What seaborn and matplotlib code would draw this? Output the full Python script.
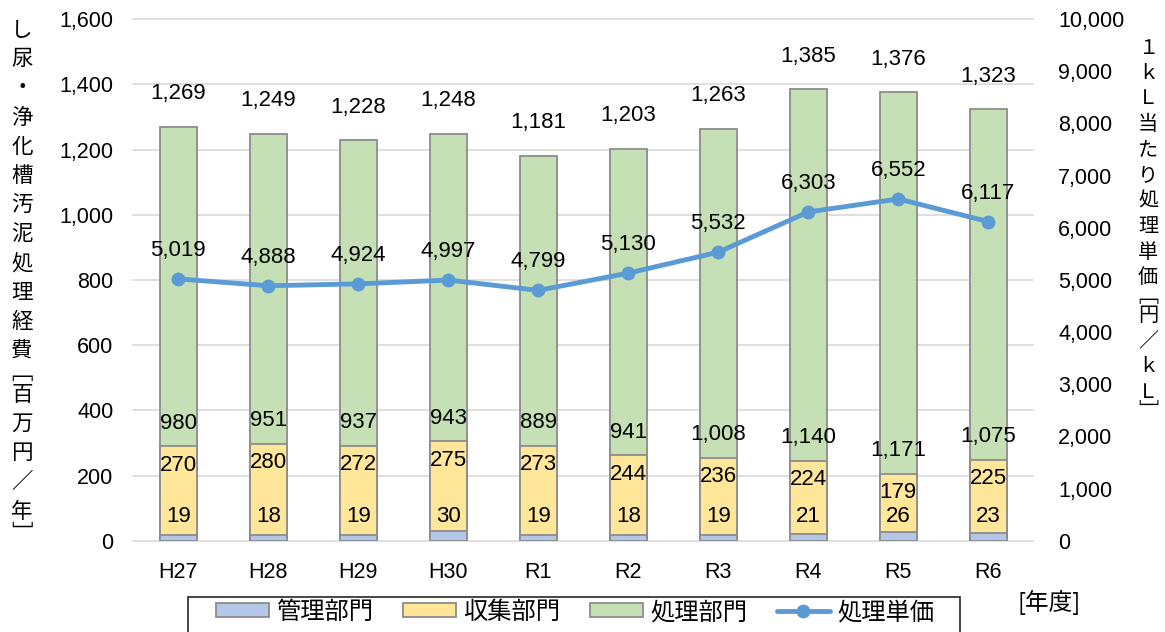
import numpy as np
import pandas as pd
import matplotlib
matplotlib.use("Agg")
import matplotlib.pyplot as plt
from matplotlib.patches import Patch, Rectangle
from matplotlib.lines import Line2D
from matplotlib.ticker import FuncFormatter
import seaborn as sns

# ---- data -------------------------------------------------------------
years = ["H27", "H28", "H29", "H30", "R1", "R2", "R3", "R4", "R5", "R6"]
kanri = [19, 18, 19, 30, 19, 18, 19, 21, 26, 23]                 # 管理部門 [百万円]
shushu = [270, 280, 272, 275, 273, 244, 236, 224, 179, 225]      # 収集部門 [百万円]
shori = [980, 951, 937, 943, 889, 941, 1008, 1140, 1171, 1075]   # 処理部門 [百万円]
tanka = [5019, 4888, 4924, 4997, 4799, 5130, 5532, 6303, 6552, 6117]  # 処理単価 [円/kL]

series_names = ["管理部門", "収集部門", "処理部門", "処理単価"]
left_ticks = [0, 200, 400, 600, 800, 1000, 1200, 1400, 1600]
right_ticks = [0, 1000, 2000, 3000, 4000, 5000, 6000, 7000, 8000, 9000, 10000]
left_title = "し尿・浄化槽汚泥処理経費﹇百万円／年﹈"
right_title = "１ｋＬ当たり処理単価﹇円／ｋＬ﹈"
x_unit = "[年度]"

# ---- style ------------------------------------------------------------
BLUE, YELLOW, GREEN = "#B4C7E7", "#FFE699", "#C5E0B4"
LINE = "#5B9BD5"
EDGE = "#8C8C8C"
GRID = "#D9D9D9"
JP = "Noto Sans CJK JP"

sns.set_theme(style="white")
plt.rcParams["font.family"] = ["Liberation Sans", JP, "DejaVu Sans"]
plt.rcParams["text.color"] = "black"

W, H, DPI = 1165, 632, 100
fig = plt.figure(figsize=(W / DPI, H / DPI), dpi=DPI)
ax = fig.add_axes([133.3 / W, 1 - 540.7 / H, 900 / W, (540.7 - 19.1) / H])

df = pd.DataFrame({"year": years, "kanri": kanri, "shushu": shushu,
                   "shori": shori, "tanka": tanka})
df["c1"] = df["kanri"]
df["c2"] = df["c1"] + df["shushu"]
df["c3"] = df["c2"] + df["shori"]

# stacked bars: draw the cumulative heights from the back to the front
for col, color in [("c3", GREEN), ("c2", YELLOW), ("c1", BLUE)]:
    sns.barplot(data=df, x="year", y=col, color=color, width=0.41,
                saturation=1, edgecolor=EDGE, linewidth=1.3,
                errorbar=None, ax=ax, zorder=2)

ax.set_ylim(0, 1600)
ax.set_xlim(-0.5, len(years) - 0.5)
ax.set_yticks(left_ticks)

ax2 = ax.twinx()
sns.lineplot(x=np.arange(len(years)), y=df["tanka"], ax=ax2, color=LINE,
             linewidth=3.5, marker="o", markersize=10, markeredgewidth=0,
             solid_joinstyle="round", solid_capstyle="round", zorder=3)
ax2.set_ylim(0, 10000)
ax2.set_yticks(right_ticks)
ax.set_xlim(-0.5, len(years) - 0.5)
ax.set_xticks(range(len(years)))
ax.set_xticklabels(years)

fmt = FuncFormatter(lambda v, p: f"{int(round(v)):,}")
ax.yaxis.set_major_formatter(fmt)
ax2.yaxis.set_major_formatter(fmt)

for a in (ax, ax2):
    a.set_xlabel("")
    a.set_ylabel("")
    for s in a.spines.values():
        s.set_visible(False)

ax.yaxis.grid(True, color=GRID, linewidth=1.2)
ax.xaxis.grid(False)
ax.set_axisbelow(True)
for gl in ax.get_ygridlines():
    gl.set_clip_on(False)

ax.tick_params(axis="y", length=0, pad=14.4, labelsize=15.5, labelcolor="black")
ax.tick_params(axis="x", length=0, pad=15, labelsize=15.5, labelcolor="black")
ax2.tick_params(axis="y", length=0, pad=18, labelsize=15.5, labelcolor="black")

# ---- value labels -----------------------------------------------------
lab = dict(textcoords="offset points", ha="center", va="center", fontsize=16)
for i in range(len(years)):
    ax.annotate(f"{df['c3'][i]:,}", (i, df["c3"][i]), xytext=(0, 23.8), **lab)
    ax.annotate(f"{shori[i]:,}", (i, df["c2"][i]), xytext=(0, 16.6), **lab)
    ax.annotate(f"{shushu[i]:,}", (i, df["c2"][i]), xytext=(0, -13.7), **lab)
    ax.annotate(f"{kanri[i]:,}", (i, 0), xytext=(0, 17.3), **lab)
    ax2.annotate(f"{tanka[i]:,}", (i, tanka[i]), xytext=(0, 20.5), **lab)


# ---- vertical axis titles ---------------------------------------------
def vertical_text(x_px, y_px, text, step_px, size):
    y = y_px
    for ch in text:
        h = step_px * 0.5 if ch in "﹇﹈" else step_px
        fig.text(x_px / W, 1 - (y + h / 2) / H, ch, ha="center", va="center",
                 family=[JP, "DejaVu Sans"], size=size)
        y += h


vertical_text(22, 30 - 29.2 / 2, left_title, 29.2, 15.5)
vertical_text(1148, 48 - 25.5 / 2, right_title, 25.5, 14.5)

# ---- legend -----------------------------------------------------------
handles = [Patch(facecolor=BLUE, edgecolor=EDGE, linewidth=1.3),
           Patch(facecolor=YELLOW, edgecolor=EDGE, linewidth=1.3),
           Patch(facecolor=GREEN, edgecolor=EDGE, linewidth=1.3),
           Line2D([], [], color=LINE, linewidth=3.5, marker="o", markersize=10,
                  markeredgewidth=0)]
fig.legend(handles, series_names, loc="center",
           bbox_to_anchor=((215 + 935) / 2 / W, 1 - 612 / H), ncol=4,
           frameon=False, prop={"family": JP, "size": 17.5},
           handlelength=2.18, handleheight=0.5, handletextpad=0.29,
           columnspacing=1.23, borderpad=0)
fig.patches.append(Rectangle((188 / W, -0.05), (960 - 188) / W, 0.05 + 1 - 597 / H,
                             transform=fig.transFigure, fill=False,
                             edgecolor="#262626", linewidth=1.2))

fig.text(1049 / W, 1 - 603 / H, x_unit, ha="center", va="center",
         family=[JP, "DejaVu Sans"], size=17)

fig.savefig("out.png", dpi=DPI)
